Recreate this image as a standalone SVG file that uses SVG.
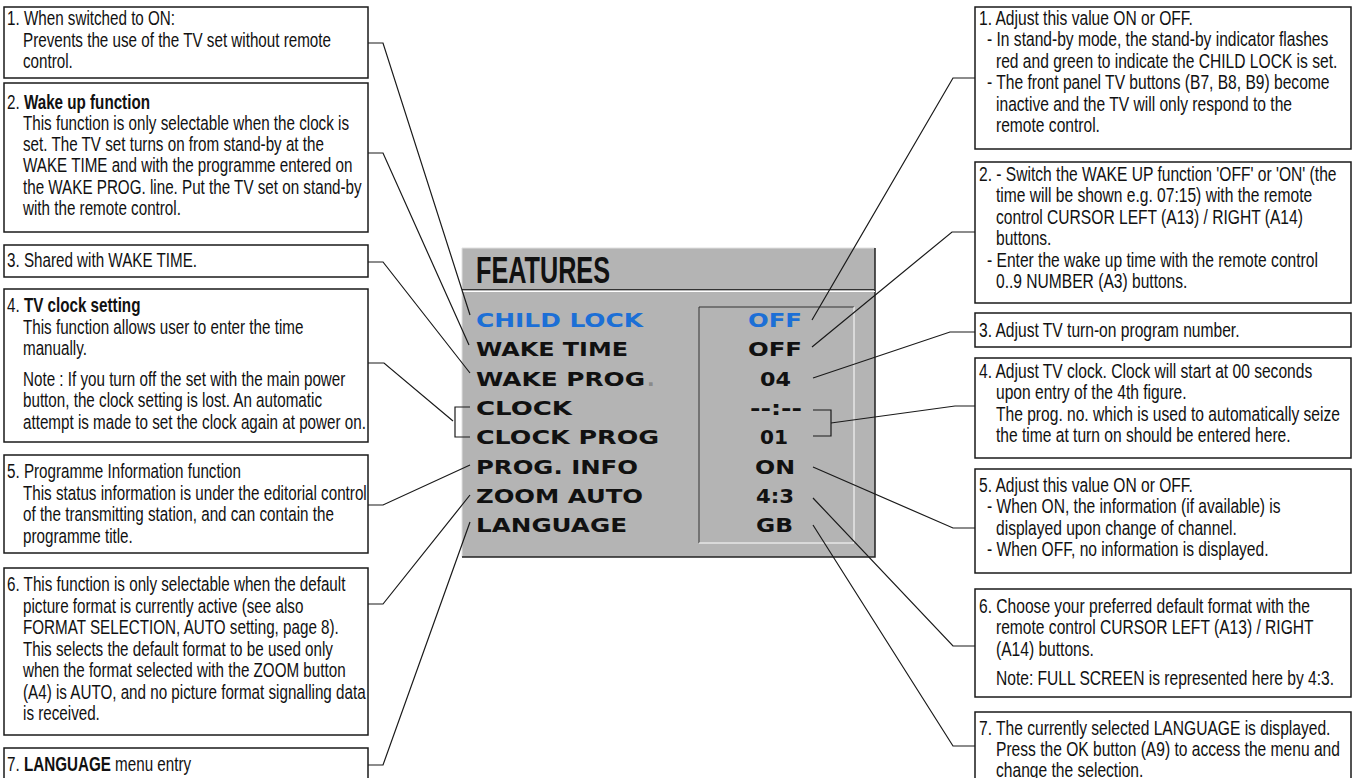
<svg xmlns="http://www.w3.org/2000/svg" width="1353" height="778" viewBox="0 0 1353 778">
<style>
.box{fill:#fff;stroke:#1a1a1a;stroke-width:1.5}
.t{font-family:"Liberation Sans",Arial,sans-serif;font-size:19.5px;fill:#111}
.b{font-weight:bold}
.conn{fill:none;stroke:#1a1a1a;stroke-width:1.2}
.menu{font-family:"DejaVu Sans",Verdana,sans-serif;font-weight:bold;font-size:20px;fill:#111}
.blue{fill:#1c6fd6}
.val{text-anchor:middle}
</style>
<rect width="1353" height="778" fill="#fff"/>
<g id="panel">
<rect x="462" y="248" width="413" height="309" fill="#b4b4b4"/>
<path d="M462,557 V248 H875" fill="none" stroke="#e0e0e0" stroke-width="1"/>
<path d="M875,248 V557 H462" fill="none" stroke="#222" stroke-width="1.5"/>
<line x1="462" y1="289.5" x2="875" y2="289.5" stroke="#333" stroke-width="1.2"/>
<line x1="462" y1="291.5" x2="875" y2="291.5" stroke="#fff" stroke-width="1.2"/>
<path d="M699,543 V307 H854" fill="none" stroke="#333" stroke-width="1"/>
<path d="M854,307 V543 H699" fill="none" stroke="#fff" stroke-width="1"/>
<text x="476" y="283" font-family="Liberation Sans, Arial, sans-serif" font-weight="bold" font-size="37" fill="#111" textLength="134" lengthAdjust="spacingAndGlyphs">FEATURES</text>
<text class="menu blue" x="476" y="327" textLength="167" lengthAdjust="spacingAndGlyphs">CHILD LOCK</text>
<text class="menu" x="476" y="356" textLength="152" lengthAdjust="spacingAndGlyphs">WAKE TIME</text>
<text class="menu" x="476" y="386" textLength="169" lengthAdjust="spacingAndGlyphs">WAKE PROG</text>
<text class="menu" x="647" y="386" style="fill:#8a8a8a">.</text>
<text class="menu" x="476" y="415" textLength="96" lengthAdjust="spacingAndGlyphs">CLOCK</text>
<text class="menu" x="476" y="444" textLength="183" lengthAdjust="spacingAndGlyphs">CLOCK PROG</text>
<text class="menu" x="476" y="474" textLength="162" lengthAdjust="spacingAndGlyphs">PROG. INFO</text>
<text class="menu" x="476" y="503" textLength="167" lengthAdjust="spacingAndGlyphs">ZOOM AUTO</text>
<text class="menu" x="476" y="532" textLength="151" lengthAdjust="spacingAndGlyphs">LANGUAGE</text>
<text class="menu blue val" x="775" y="327" textLength="54" lengthAdjust="spacingAndGlyphs">OFF</text>
<text class="menu val" x="775" y="356" textLength="54" lengthAdjust="spacingAndGlyphs">OFF</text>
<text class="menu val" x="775.5" y="386" textLength="31" lengthAdjust="spacingAndGlyphs">04</text>
<text class="menu val" x="776" y="415" textLength="52" lengthAdjust="spacingAndGlyphs">--:--</text>
<text class="menu val" x="774" y="444" textLength="28" lengthAdjust="spacingAndGlyphs">01</text>
<text class="menu val" x="775" y="474" textLength="40" lengthAdjust="spacingAndGlyphs">ON</text>
<text class="menu val" x="775" y="503" textLength="38" lengthAdjust="spacingAndGlyphs">4:3</text>
<text class="menu val" x="774.5" y="532" textLength="37" lengthAdjust="spacingAndGlyphs">GB</text>
</g>
<g id="connectors">
<polyline class="conn" points="368,43 383,43 470,315"/>
<polyline class="conn" points="368,153 383,153 469,345"/>
<polyline class="conn" points="368,262 383,262 470,373"/>
<polyline class="conn" points="368,363 384,363 453,421"/>
<polyline class="conn" points="470,407 455,407 455,437 470,437"/>
<polyline class="conn" points="368,505 383,505 470,465"/>
<polyline class="conn" points="368,604 383,604 470,495"/>
<polyline class="conn" points="368,765 383,765 470,522"/>
<polyline class="conn" points="975,78 953,78 812,320"/>
<polyline class="conn" points="975,232 952,232 812,347"/>
<polyline class="conn" points="975,332 950,332 813,378"/>
<polyline class="conn" points="975,406 955,406 831,423"/>
<polyline class="conn" points="813,410 831,410 831,436 813,436"/>
<polyline class="conn" points="975,528 953,528 813,467"/>
<polyline class="conn" points="975,646 953,646 813,498"/>
<polyline class="conn" points="975,746 953,746 813,525"/>
</g>
<g id="left1">
<rect class="box" x="4" y="7" width="364" height="71"/>
<text class="t" transform="matrix(.78 0 0 1 7 25)">1. When switched to ON:</text>
<text class="t" transform="matrix(.78 0 0 1 23 46.5)">Prevents the use of the TV set without remote</text>
<text class="t" transform="matrix(.78 0 0 1 23 68)">control.</text>
</g>
<g id="left2">
<rect class="box" x="4" y="83" width="364" height="149"/>
<text class="t" transform="matrix(.78 0 0 1 7 108.5)">2. <tspan class="b">Wake up function</tspan></text>
<text class="t" transform="matrix(.78 0 0 1 23 129.8)">This function is only selectable when the clock is</text>
<text class="t" transform="matrix(.78 0 0 1 23 151.1)">set. The TV set turns on from stand-by at the</text>
<text class="t" transform="matrix(.78 0 0 1 23 172.4)">WAKE TIME and with the programme entered on</text>
<text class="t" transform="matrix(.78 0 0 1 23 193.7)">the WAKE PROG. line. Put the TV set on stand-by</text>
<text class="t" transform="matrix(.78 0 0 1 23 215)">with the remote control.</text>
</g>
<g id="left3">
<rect class="box" x="4" y="245" width="364" height="32"/>
<text class="t" transform="matrix(.78 0 0 1 7 266.5)">3. Shared with WAKE TIME.</text>
</g>
<g id="left4">
<rect class="box" x="4" y="289" width="364" height="153"/>
<text class="t" transform="matrix(.78 0 0 1 7 312)">4. <tspan class="b">TV clock setting</tspan></text>
<text class="t" transform="matrix(.78 0 0 1 23 333.5)">This function allows user to enter the time</text>
<text class="t" transform="matrix(.78 0 0 1 23 355)">manually.</text>
<text class="t" transform="matrix(.78 0 0 1 23 385.5)">Note : If you turn off the set with the main power</text>
<text class="t" transform="matrix(.78 0 0 1 23 407)">button, the clock setting is lost. An automatic</text>
<text class="t" transform="matrix(.78 0 0 1 23 428.5)">attempt is made to set the clock again at power on.</text>
</g>
<g id="left5">
<rect class="box" x="4" y="455" width="364" height="98"/>
<text class="t" transform="matrix(.78 0 0 1 7 478)">5. Programme Information function</text>
<text class="t" transform="matrix(.78 0 0 1 23 499.5)">This status information is under the editorial control</text>
<text class="t" transform="matrix(.78 0 0 1 23 521)">of the transmitting station, and can contain the</text>
<text class="t" transform="matrix(.78 0 0 1 23 542.5)">programme title.</text>
</g>
<g id="left6">
<rect class="box" x="4" y="568" width="364" height="167"/>
<text class="t" transform="matrix(.78 0 0 1 7 591)">6. This function is only selectable when the default</text>
<text class="t" transform="matrix(.78 0 0 1 23 612.5)">picture format is currently active (see also</text>
<text class="t" transform="matrix(.78 0 0 1 23 634)">FORMAT SELECTION, AUTO setting, page 8).</text>
<text class="t" transform="matrix(.78 0 0 1 23 655.5)">This selects the default format to be used only</text>
<text class="t" transform="matrix(.78 0 0 1 23 677)">when the format selected with the ZOOM button</text>
<text class="t" transform="matrix(.78 0 0 1 23 698.5)">(A4) is AUTO, and no picture format signalling data</text>
<text class="t" transform="matrix(.78 0 0 1 23 720)">is received.</text>
</g>
<g id="left7">
<rect class="box" x="4" y="748" width="364" height="50"/>
<text class="t" transform="matrix(.78 0 0 1 7 771)">7. <tspan class="b">LANGUAGE</tspan> menu entry</text>
</g>
<g id="right1">
<rect class="box" x="975" y="7" width="376" height="142"/>
<text class="t" transform="matrix(.8 0 0 1 979 24.5)">1. Adjust this value ON or OFF.</text>
<text class="t" transform="matrix(.8 0 0 1 987 46)">- In stand-by mode, the stand-by indicator flashes</text>
<text class="t" transform="matrix(.8 0 0 1 996 67.5)">red and green to indicate the CHILD LOCK is set.</text>
<text class="t" transform="matrix(.8 0 0 1 987 89)">- The front panel TV buttons (B7, B8, B9) become</text>
<text class="t" transform="matrix(.8 0 0 1 996 110.5)">inactive and the TV will only respond to the</text>
<text class="t" transform="matrix(.8 0 0 1 996 132)">remote control.</text>
</g>
<g id="right2">
<rect class="box" x="975" y="162" width="376" height="141"/>
<text class="t" transform="matrix(.8 0 0 1 979 180.5)">2. - Switch the WAKE UP function 'OFF' or 'ON' (the</text>
<text class="t" transform="matrix(.8 0 0 1 996 202)">time will be shown e.g. 07:15) with the remote</text>
<text class="t" transform="matrix(.8 0 0 1 996 223.5)">control CURSOR LEFT (A13) / RIGHT (A14)</text>
<text class="t" transform="matrix(.8 0 0 1 996 245)">buttons.</text>
<text class="t" transform="matrix(.8 0 0 1 987 266.5)">- Enter the wake up time with the remote control</text>
<text class="t" transform="matrix(.8 0 0 1 996 288)">0..9 NUMBER (A3) buttons.</text>
</g>
<g id="right3">
<rect class="box" x="975" y="313" width="376" height="34"/>
<text class="t" transform="matrix(.8 0 0 1 979 337)">3. Adjust TV turn-on program number.</text>
</g>
<g id="right4">
<rect class="box" x="975" y="358" width="376" height="100"/>
<text class="t" transform="matrix(.8 0 0 1 979 377.5)">4. Adjust TV clock. Clock will start at 00 seconds</text>
<text class="t" transform="matrix(.8 0 0 1 996 399)">upon entry of the 4th figure.</text>
<text class="t" transform="matrix(.8 0 0 1 996 420.5)">The prog. no. which is used to automatically seize</text>
<text class="t" transform="matrix(.8 0 0 1 996 442)">the time at turn on should be entered here.</text>
</g>
<g id="right5">
<rect class="box" x="975" y="469" width="376" height="104"/>
<text class="t" transform="matrix(.8 0 0 1 979 491.5)">5. Adjust this value ON or OFF.</text>
<text class="t" transform="matrix(.8 0 0 1 987 513)">- When ON, the information (if available) is</text>
<text class="t" transform="matrix(.8 0 0 1 996 534.5)">displayed upon change of channel.</text>
<text class="t" transform="matrix(.8 0 0 1 987 556)">- When OFF, no information is displayed.</text>
</g>
<g id="right6">
<rect class="box" x="975" y="589" width="376" height="108"/>
<text class="t" transform="matrix(.8 0 0 1 979 612.5)">6. Choose your preferred default format with the</text>
<text class="t" transform="matrix(.8 0 0 1 996 634)">remote control CURSOR LEFT (A13) / RIGHT</text>
<text class="t" transform="matrix(.8 0 0 1 996 655.5)">(A14) buttons.</text>
<text class="t" transform="matrix(.8 0 0 1 996 684.5)">Note: FULL SCREEN is represented here by 4:3.</text>
</g>
<g id="right7">
<rect class="box" x="975" y="712" width="376" height="90"/>
<text class="t" transform="matrix(.8 0 0 1 979 734.5)">7. The currently selected LANGUAGE is displayed.</text>
<text class="t" transform="matrix(.8 0 0 1 996 756)">Press the OK button (A9) to access the menu and</text>
<text class="t" transform="matrix(.8 0 0 1 996 777)">change the selection.</text>
</g>
</svg>
